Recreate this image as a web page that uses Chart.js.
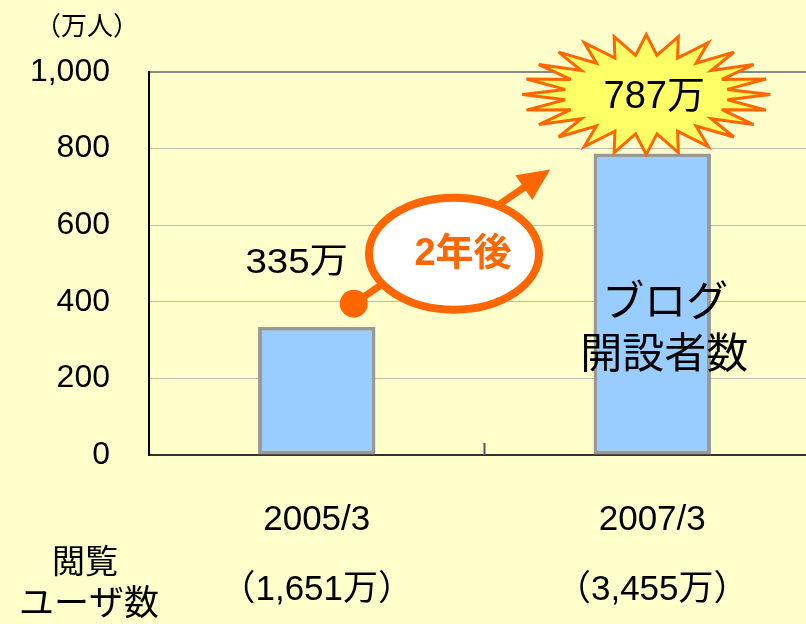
<!DOCTYPE html>
<html>
<head>
<meta charset="utf-8">
<script src="https://cdn.jsdelivr.net/npm/chart.js@4"></script>
<style>
  html, body { margin: 0; padding: 0; background: #FFFFCC; overflow: hidden; }
  #wrap { width: 820px; height: 624px; }
</style>
</head>
<body>
<div id="wrap"><canvas id="chart-blog"></canvas></div>
<script>
const categories = ['2005/3', '2007/3'];
const bloggers = [335, 787];
const viewers = ['1,651万', '3,455万'];
const yMax = 1000;
const yStep = 200;

const FONT = "'Liberation Sans', Arial, 'Noto Sans CJK JP', sans-serif";
const ORANGE = '#FF6600';

// decorations drawn on top of the bars
const extras = {
    id: 'extras',
    afterDatasetsDraw(chart) {
        const ctx = chart.ctx;
        const xs = chart.scales.x, ys = chart.scales.y;
        const area = chart.chartArea;
        const x0 = xs.getPixelForValue(0), x1 = xs.getPixelForValue(1);
        const y0 = ys.getPixelForValue(bloggers[0]), y1 = ys.getPixelForValue(bloggers[1]);

        ctx.save();

        // tick between the two categories, pointing up
        const xm = (x0 + x1) / 2;
        ctx.strokeStyle = '#555';
        ctx.lineWidth = 2;
        ctx.beginPath();
        ctx.moveTo(xm, area.bottom);
        ctx.lineTo(xm, area.bottom - 12);
        ctx.stroke();

        ctx.textAlign = 'center';
        ctx.textBaseline = 'middle';
        ctx.fillStyle = '#000';

        // unit
        ctx.font = '26px ' + FONT;
        ctx.fillText('（万人）', area.left - 62, 28);

        // row title on the left
        ctx.font = '33px ' + FONT;
        ctx.fillText('閲覧', area.left - 64, 564);
        ctx.font = '35px ' + FONT;
        ctx.fillText('ユーザ数', area.left - 60, 605);

        // first value (a bit stretched, like the original)
        ctx.save();
        ctx.translate(x0 - 20, y0 - 63);
        ctx.scale(1.1, 1);
        ctx.font = '35px ' + FONT;
        ctx.fillText(bloggers[0] + '万', 0, 0);
        ctx.restore();

        // arrow from first bar to second
        const sx = x0 + 37, sy = y0 - 23;
        const tx = x1 - 102, ty = y1 + 16;
        const ang = Math.atan2(ty - sy, tx - sx);
        ctx.strokeStyle = ORANGE;
        ctx.fillStyle = ORANGE;
        ctx.lineWidth = 7;
        ctx.beginPath();
        ctx.moveTo(sx, sy);
        ctx.lineTo(tx - 25 * Math.cos(ang), ty - 25 * Math.sin(ang));
        ctx.stroke();
        ctx.beginPath();
        ctx.arc(sx, sy, 14, 0, Math.PI * 2);
        ctx.fill();
        ctx.beginPath();
        ctx.moveTo(tx, ty);
        ctx.lineTo(tx - 32 * Math.cos(ang) + 15 * Math.sin(ang), ty - 32 * Math.sin(ang) - 15 * Math.cos(ang));
        ctx.lineTo(tx - 32 * Math.cos(ang) - 15 * Math.sin(ang), ty - 32 * Math.sin(ang) + 15 * Math.cos(ang));
        ctx.closePath();
        ctx.fill();

        // ellipse with "2年後"
        const ex = (sx + tx) / 2 + 2, ey = (sy + ty) / 2 + 17;
        ctx.beginPath();
        ctx.ellipse(ex, ey, 85, 56, 0, 0, Math.PI * 2);
        ctx.fillStyle = '#fff';
        ctx.fill();
        ctx.lineWidth = 8;
        ctx.stroke();
        ctx.fillStyle = ORANGE;
        ctx.font = 'bold 38px ' + FONT;
        ctx.fillText('2年後', ex + 9, ey + 1);

        // starburst with the second value
        const bx = x1 - 6, by = y1 - 59;
        const spikes = 24;
        ctx.beginPath();
        for (let i = 0; i < spikes * 2; i++) {
            const a = Math.PI * i / spikes;
            const r = i % 2 === 0 ? 1 : 0.66;
            const px = bx + 124 * r * Math.cos(a);
            const py = by + 60 * r * Math.sin(a);
            if (i === 0) ctx.moveTo(px, py); else ctx.lineTo(px, py);
        }
        ctx.closePath();
        ctx.fillStyle = '#FFFF66';
        ctx.fill();
        ctx.lineWidth = 3;
        ctx.lineJoin = 'miter';
        ctx.miterLimit = 4;
        ctx.strokeStyle = ORANGE;
        ctx.stroke();
        ctx.fillStyle = '#000';
        ctx.font = '38px ' + FONT;
        ctx.fillText(bloggers[1] + '万', bx + 8, by + 3);

        // series name on the second bar
        ctx.font = '42px ' + FONT;
        ctx.fillText('ブログ', x1 + 13, 304);
        ctx.fillText('開設者数', x1 + 12, 356);

        ctx.restore();
    }
};

let chartBlog = new Chart(document.getElementById('chart-blog'), {
    type: 'bar',
    data: {
        labels: categories.map((c, i) => [c, '', '（' + viewers[i] + '）']),
        datasets: [{
            label: 'ブログ開設者数',
            data: bloggers,
            backgroundColor: '#99CCFF',
            borderColor: '#999999',
            borderWidth: 4,
            borderSkipped: false,
            categoryPercentage: 1,
            barPercentage: 0.35
        }]
    },
    options: {
        responsive: true,
        maintainAspectRatio: false,
        animation: false,
        layout: {padding: {top: 72, left: 0, right: 0, bottom: 0}},
        plugins: {legend: {display: false}, tooltip: {enabled: false}},
        scales: {
            x: {
                grid: {display: false},
                border: {display: true, color: '#333', width: 2},
                ticks: {
                    color: '#000',
                    font: {family: FONT, size: 35, lineHeight: 1},
                    padding: 40,
                    maxRotation: 0
                },
                afterFit(scale) { scale.height = 169; }
            },
            y: {
                min: 0,
                max: yMax,
                grid: {
                    drawTicks: false,
                    color: (c) => c.tick && c.tick.value === yMax ? '#888' : '#BBBBAA',
                    lineWidth: (c) => c.tick && c.tick.value === yMax ? 2 : 1
                },
                border: {display: true, color: '#000', width: 2},
                ticks: {
                    stepSize: yStep,
                    color: '#000',
                    padding: 39,
                    font: {family: FONT, size: 32},
                    callback: (v) => v.toLocaleString('en-US')
                },
                afterFit(scale) { scale.width = 149; }
            }
        }
    },
    plugins: [extras]
});
</script>
</body>
</html>
